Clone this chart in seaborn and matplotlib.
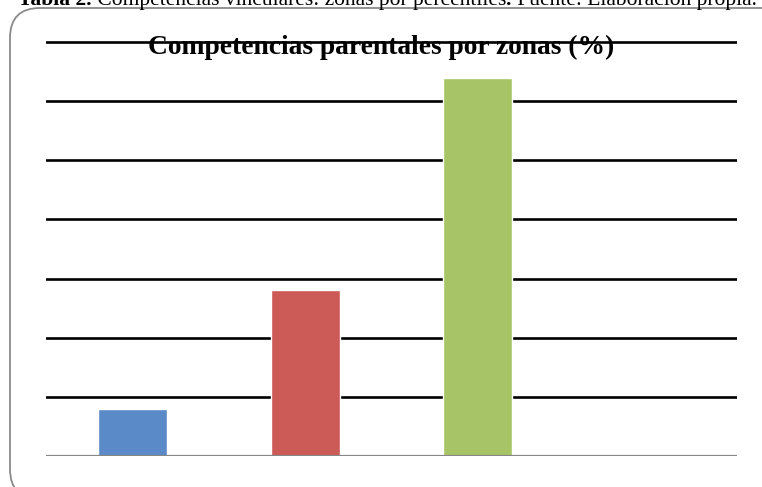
import numpy as np
import pandas as pd
import seaborn as sns
from matplotlib import pyplot as plt
from matplotlib.patches import FancyBboxPatch
from matplotlib.transforms import IdentityTransform

# values (gridlines every 10 %)
zonas = ["Zona baja", "Zona media", "Zona alta"]
porcentajes = [8, 28, 64]
colores = ["#5A8BC8", "#CC5A56", "#A7C566"]
y_ticks = [0, 10, 20, 30, 40, 50, 60, 70]

caption_bold = "Tabla 2."
caption_rest = " Competencias vinculares: zonas por percentiles"
caption_end = " Fuente: Elaboración propia."
titulo = "Competencias parentales por zonas (%)"

sns.set_theme(style="white")
plt.rcParams['font.family'] = ['Liberation Serif', 'DejaVu Serif']

W, H = 762, 487
fig = plt.figure(figsize=(W / 100, H / 100), dpi=100)
ax = fig.add_axes([46 / W, 31 / H, 691 / W, 425.8 / H])

df = pd.DataFrame({"zona": zonas, "pct": porcentajes})
sns.barplot(data=df, x="zona", y="pct", hue="zona", palette=colores,
            width=0.4, saturation=1, legend=False, ax=ax, zorder=3)

ax.set_xlim(-0.5, 3.5)
ax.set_ylim(0, 72)
ax.set_yticks(y_ticks[1:])
ax.yaxis.grid(True, color="black", linewidth=1.9, zorder=1)
ax.set_axisbelow(True)
ax.axhline(0, color="#878787", linewidth=2.3, zorder=4)
ax.tick_params(left=False, bottom=False, labelleft=False, labelbottom=False)
ax.set_xlabel("")
ax.set_ylabel("")
for s in ax.spines.values():
    s.set_visible(False)

# rounded frame around the chart (pixel coordinates)
frame = FancyBboxPatch((10, -12), 790, 491, boxstyle="round,pad=0,rounding_size=30",
                       transform=IdentityTransform(), facecolor="none",
                       edgecolor="#8a8a8a", linewidth=1.3)
fig.patches.append(frame)

fig.text(0.5, 1 - 47 / H, titulo, ha="center", va="center", fontsize=19.8,
         fontweight="bold", color="black", zorder=5)

# caption above the frame, partly cut by the image edge
cap_y = 1 - 5 / H
t1 = fig.text(18 / W, cap_y, caption_bold, ha="left", va="baseline",
              fontsize=15.5, fontweight="bold", color="black")
fig.canvas.draw()
r = fig.canvas.get_renderer()
x = t1.get_window_extent(r).x1
t2 = fig.text(x / W, cap_y, caption_rest, ha="left", va="baseline", fontsize=15.5, color="black")
x = t2.get_window_extent(r).x1
t3 = fig.text(x / W, cap_y, ".", ha="left", va="baseline", fontsize=15.5, fontweight="bold", color="black")
x = t3.get_window_extent(r).x1
fig.text(x / W, cap_y, caption_end, ha="left", va="baseline", fontsize=15.5, color="black")

fig.savefig("out.png", dpi=100)
